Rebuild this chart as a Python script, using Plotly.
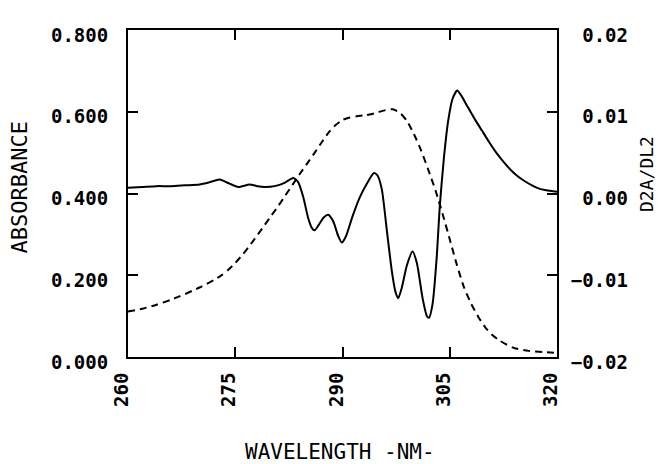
import plotly.graph_objects as go

# Absorbance (dashed, left axis)
abs_nm = [260, 262, 264, 266, 267, 268, 269, 270, 271, 272, 273, 274, 275, 276, 277, 278, 279, 280,
          281, 282, 283, 284, 285, 286, 287, 288, 289, 290, 291, 292, 293, 294, 295, 296, 297, 298,
          299, 300, 301, 302, 303, 304, 305, 306, 307, 308, 309, 310, 311, 312, 313, 314, 316, 318, 320]
absorbance = [0.111, 0.118, 0.128, 0.140, 0.147, 0.154, 0.162, 0.170, 0.179, 0.188, 0.199, 0.213,
              0.230, 0.250, 0.272, 0.296, 0.320, 0.345, 0.369, 0.395, 0.421, 0.447, 0.472, 0.497,
              0.523, 0.548, 0.567, 0.580, 0.586, 0.589, 0.591, 0.594, 0.599, 0.604, 0.606, 0.598,
              0.578, 0.545, 0.505, 0.458, 0.408, 0.350, 0.288, 0.225, 0.170, 0.130, 0.098, 0.072,
              0.053, 0.040, 0.030, 0.022, 0.015, 0.012, 0.010]

# Second derivative (solid, right axis)
d2_nm = [260, 262, 264, 266, 268, 270, 271.5, 272.8, 274.2, 275.4, 277.0, 278.1, 279.1, 280.5, 281.9,
         283.1, 283.8, 284.5, 285.2, 285.7, 286.1, 286.7, 287.4, 288.0, 288.7, 289.4, 289.9, 290.5,
         291.4, 292.4, 293.4, 294.4, 294.9, 295.5, 296.2, 296.9, 297.4, 297.8, 298.3, 299.0, 299.8,
         300.4, 301.2, 301.8, 302.1, 302.6, 303.2, 303.6, 304.2, 304.8, 305.4, 306.05, 306.6, 307.5,
         308.5, 309.5, 310.5, 311.5, 312.5, 313.5, 314.5, 315.5, 316.5, 317.5, 318.5, 320]
d2a = [0.0007, 0.0008, 0.0009, 0.0009, 0.0010, 0.0011, 0.0014, 0.0017, 0.0012, 0.0008, 0.0011,
       0.0009, 0.0008, 0.0009, 0.0013, 0.0019, 0.0014, -0.0004, -0.0030, -0.0042, -0.0045,
       -0.0038, -0.0029, -0.0026, -0.0034, -0.0052, -0.0060, -0.0052, -0.0028, -0.0005, 0.0012,
       0.0025, 0.0022, 0.0005, -0.0045, -0.0095, -0.0120, -0.0128, -0.0115, -0.0088, -0.0071,
       -0.0085, -0.0128, -0.0150, -0.0152, -0.0135, -0.0075, -0.0016, 0.0045, 0.0090, 0.0116,
       0.0126, 0.0120, 0.0106, 0.0091, 0.0077, 0.0063, 0.0050, 0.0039, 0.0029, 0.0021, 0.0015,
       0.0010, 0.0006, 0.0004, 0.0002]

x_ticks = [260, 275, 290, 305, 320]
x_ticktext = ["260", "275", "290", "305", "320"]
y_ticks = [0.0, 0.2, 0.4, 0.6, 0.8]
y_ticktext = ["0.000", "0.200", "0.400", "0.600", "0.800"]
y2_ticks = [-0.02, -0.01, 0.0, 0.01, 0.02]
y2_ticktext = ["\u22120.02", "\u22120.01", "\u00a00.00", "\u00a00.01", "\u00a00.02"]

FONT = "DejaVu Sans Mono"
tickfont = dict(family=FONT, size=19, color="black", weight="bold")

fig = go.Figure()
fig.add_trace(go.Scatter(x=abs_nm, y=absorbance, mode="lines", yaxis="y",
                         line=dict(color="black", width=2, dash="7px,5px", shape="spline", smoothing=0.6),
                         showlegend=False))
fig.add_trace(go.Scatter(x=d2_nm, y=d2a, mode="lines", yaxis="y2",
                         line=dict(color="black", width=2, shape="spline", smoothing=0.6),
                         showlegend=False))

# page body adds an 8px offset, so the figure is 8px smaller and margins compensate
fig.update_layout(
    width=663, height=456,
    margin=dict(l=120, r=114, t=22, b=107),
    paper_bgcolor="white", plot_bgcolor="white",
    xaxis=dict(range=[260, 320], tickvals=x_ticks, ticktext=x_ticktext, tickangle=-90,
               ticks="inside", ticklen=10, tickwidth=2, tickcolor="black",
               showline=True, linewidth=2, linecolor="black", mirror="ticks",
               showgrid=False, zeroline=False, tickfont=tickfont,
               ticklabelstandoff=6, ticklabelshift=-6),
    yaxis=dict(range=[0, 0.8], tickvals=y_ticks, ticktext=y_ticktext,
               ticks="inside", ticklen=10, tickwidth=2, tickcolor="black",
               showline=True, linewidth=2, linecolor="black",
               showgrid=False, zeroline=False, tickfont=tickfont,
               ticklabelstandoff=14, ticklabelshift=5),
    yaxis2=dict(range=[-0.02, 0.02], tickvals=y2_ticks, ticktext=y2_ticktext, overlaying="y",
                side="right", ticks="inside", ticklen=10, tickwidth=2, tickcolor="black",
                showline=True, linewidth=2, linecolor="black",
                showgrid=False, zeroline=False, tickfont=tickfont,
                ticklabelstandoff=8, ticklabelshift=5),
    annotations=[
        dict(text="ABSORBANCE", xref="paper", yref="paper", x=-0.253, y=0.52, textangle=-90,
             showarrow=False, font=dict(family=FONT, size=22, color="black"),
             xanchor="center", yanchor="middle"),
        dict(text="D2A/DL2", xref="paper", yref="paper", x=1.21, y=0.56, textangle=-90,
             showarrow=False, font=dict(family=FONT, size=18, color="black"),
             xanchor="center", yanchor="middle"),
        dict(text="WAVELENGTH -NM-", xref="paper", yref="paper", x=0.495, y=-0.29,
             showarrow=False, font=dict(family=FONT, size=21, color="black"),
             xanchor="center", yanchor="middle"),
    ],
)

fig.write_html("out.html")
